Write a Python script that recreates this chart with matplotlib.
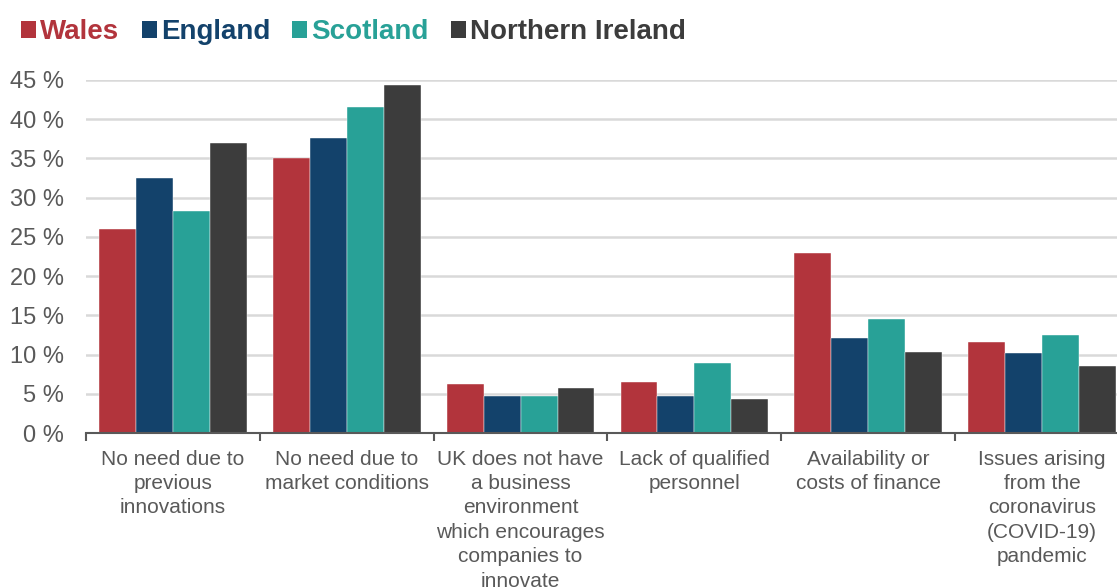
import matplotlib
matplotlib.use("Agg")
import matplotlib.pyplot as plt
from matplotlib.patches import Patch
import numpy as np

categories = [
    "No need due to\nprevious\ninnovations",
    "No need due to\nmarket conditions",
    "UK does not have\na business\nenvironment\nwhich encourages\ncompanies to\ninnovate",
    "Lack of qualified\npersonnel",
    "Availability or\ncosts of finance",
    "Issues arising\nfrom the\ncoronavirus\n(COVID-19)\npandemic",
]
series_names = ["Wales", "England", "Scotland", "Northern Ireland"]
wales = [26.0, 35.0, 6.2, 6.5, 23.0, 11.6]
england = [32.5, 37.6, 4.7, 4.7, 12.1, 10.2]
scotland = [28.3, 41.6, 4.7, 8.9, 14.5, 12.5]
northern_ireland = [37.0, 44.3, 5.7, 4.3, 10.3, 8.6]
yticks = [0, 5, 10, 15, 20, 25, 30, 35, 40, 45]
ytick_labels = ["0 %", "5 %", "10 %", "15 %", "20 %", "25 %", "30 %", "35 %", "40 %", "45 %"]

colors = ["#B2343C", "#13426B", "#28A197", "#3C3C3C"]
plt.rcParams["font.family"] = ["Liberation Sans", "DejaVu Sans"]

fig = plt.figure(figsize=(11.17, 5.88), dpi=100)
ax = fig.add_axes([86 / 1117, 155 / 588, 1043 / 1117, 353 / 588])

x = np.arange(len(categories))
bw = 0.2125
data = [wales, england, scotland, northern_ireland]
for i, (vals, c) in enumerate(zip(data, colors)):
    ax.bar(x + (i - 1.5) * bw, vals, width=bw, color=c, zorder=3,
           edgecolor="white", linewidth=0.3)

ax.set_xlim(-0.5, len(categories) - 0.5)
ax.set_ylim(0, 45)
ax.set_yticks(yticks)
ax.set_yticklabels(ytick_labels)
ax.yaxis.grid(True, color="#D9D9D9", linewidth=1.8, zorder=0)
ax.set_axisbelow(True)
ax.tick_params(axis="y", length=0, pad=16, labelsize=17, labelcolor="#595959")

ax.set_xticks(x)
ax.set_xticklabels(categories, fontsize=15, color="#595959", linespacing=1.36, va="top")
ax.tick_params(axis="x", which="major", length=0, pad=12)
ax.set_xticks(np.arange(len(categories) + 1) - 0.5, minor=True)
ax.tick_params(axis="x", which="minor", length=6, width=1.5, color="#595959", direction="out")

for s in ["top", "right", "left"]:
    ax.spines[s].set_visible(False)
ax.spines["bottom"].set_color("#595959")
ax.spines["bottom"].set_linewidth(1.5)
ax.spines["bottom"].set_zorder(4)

handles = [Patch(facecolor=c, edgecolor="none") for c in colors]
leg = fig.legend(handles, series_names, loc="upper left", bbox_to_anchor=(21 / 1117, 0.967),
                 ncol=4, frameon=False, handlelength=0.54, handleheight=0.54,
                 handletextpad=0.15, columnspacing=0.8, borderpad=0, borderaxespad=0,
                 prop={"weight": "bold", "size": 20})
for t, c in zip(leg.get_texts(), colors):
    t.set_color(c)

fig.savefig("out.png", dpi=100)
